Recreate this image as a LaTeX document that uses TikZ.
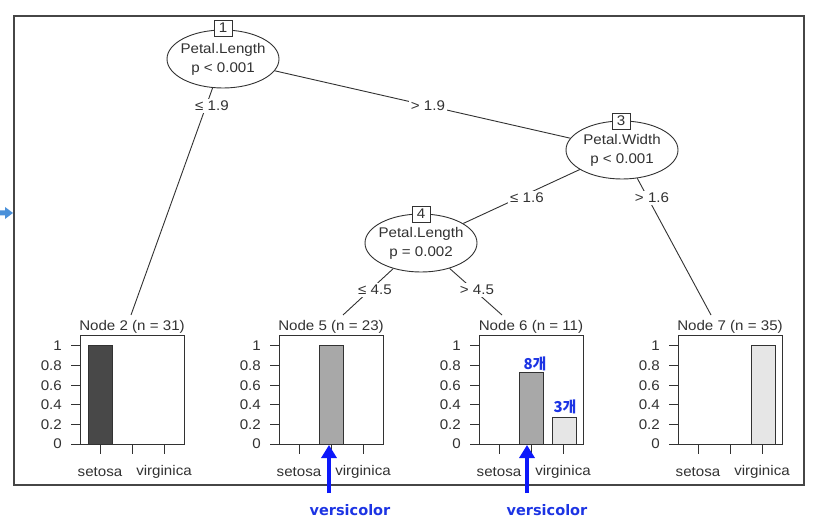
\documentclass[tikz,border=0pt]{standalone}
\usepackage{fontspec}
\setmainfont{Liberation Sans}[FakeStretch=1.08]
\newfontfamily\krfont{Noto Sans CJK KR}
\newfontfamily\annofont{DejaVu Sans}
\usetikzlibrary{shapes.geometric,arrows.meta}
\definecolor{ink}{RGB}{50,50,50}
\definecolor{framec}{RGB}{70,70,70}
\definecolor{bardark}{RGB}{72,72,72}
\definecolor{barmid}{RGB}{168,168,168}
\definecolor{barlight}{RGB}{230,230,230}
\definecolor{annoblue}{RGB}{28,52,228}
\definecolor{arrowblue}{RGB}{12,24,250}
\definecolor{sideblue}{RGB}{74,144,217}
\tikzset{
  inner/.style={ellipse, draw=ink, fill=white, line width=0.9pt, minimum width=112pt, minimum height=58pt, inner sep=0pt},
  ntext/.style={align=center, inner sep=0pt, font=\fontsize{14}{19}\selectfont},
  idbox/.style={rectangle, draw=ink, fill=white, line width=0.9pt, minimum width=18pt, minimum height=16pt, inner sep=0pt},
  edge/.style={draw=ink, line width=0.9pt},
  elabel/.style={fill=white, inner sep=2pt},
  plotline/.style={draw=ink, line width=1pt},
  bar/.style={draw=ink, line width=1pt},
  ntitle/.style={inner sep=1pt},
  anno/.style={text=annoblue, inner sep=0pt, font=\krfont\bfseries\fontsize{15}{15}\selectfont},
  vlabel/.style={text=annoblue, inner sep=0pt, font=\annofont\bfseries\fontsize{14.5}{15}\selectfont},
  barrow/.style={draw=arrowblue, line width=4pt, -{Triangle[width=15pt,length=13pt]}},
  framebox/.style={draw=framec, line width=2pt}
}
\begin{document}
\begin{tikzpicture}[x=1pt,y=-1pt, font=\fontsize{14}{18}\selectfont, text=ink]
\useasboundingbox (0,0) rectangle (830,526);
\fill[white] (0,0) rectangle (830,526);
% outer frame
\draw[framebox] (14,16) rectangle (804,485);
% side arrow fragment
\fill[sideblue] (0,210.5) -- (5,210.5) -- (5,207) -- (13,213) -- (5,219) -- (5,215.5) -- (0,215.5) -- cycle;

% inner nodes
\node[inner] (n1) at (223,59) {};
\node[inner] (n3) at (622,150) {};
\node[inner] (n4) at (421,243) {};

% connector end points at terminal panels
\coordinate (e2) at (131,315);
\coordinate (e5) at (343,315);
\coordinate (e6) at (502,315);
\coordinate (e7) at (711,315);

% edges
\draw[edge] (n1) -- (e2);
\draw[edge] (n1) -- (n3);
\draw[edge] (n3) -- (n4);
\draw[edge] (n3) -- (e7);
\draw[edge] (n4) -- (e5);
\draw[edge] (n4) -- (e6);

% edge labels
\node[elabel] (l12) at (212,106) {≤ 1.9};
\node[elabel] (l13) at (428,106) {> 1.9};
\node[elabel] (l34) at (527,198) {≤ 1.6};
\node[elabel] (l37) at (652,198) {> 1.6};
\node[elabel] (l45) at (375,290) {≤ 4.5};
\node[elabel] (l46) at (477,290) {> 4.5};

% node texts and id boxes
\node[ntext] (n1t) at (n1) {Petal.Length\\p < 0.001};
\node[ntext] (n3t) at (n3) {Petal.Width\\p < 0.001};
\node[ntext] (n4t) at (n4) {Petal.Length\\p = 0.002};
\node[idbox] (b1) at (223,28) {1};
\node[idbox] (b3) at (621,121) {3};
\node[idbox] (b4) at (421,214) {4};

% terminal panels
\foreach \i/\L/\n in {2/80/31, 5/279/23, 6/479/11, 7/678/35} {
  \node[ntitle] (t\i) at (\L+52,327) {Node \i\ (n = \n)};
  \draw[plotline] (\L,336) rectangle (\L+104,444);
  \foreach \v [count=\j] in {0,0.2,0.4,0.6,0.8,1} {
    \draw[plotline] (\L-9,444-98*\v) -- (\L,444-98*\v);
    \node[anchor=east, inner sep=0pt] (y\i x\j) at (\L-18,444-98*\v) {\v};
  }
  \foreach \k in {20,52,84} \draw[plotline] (\L+\k,444) -- (\L+\k,454);
  \node (s\i) at (\L+20,472) {setosa};
  \node (v\i) at (\L+84,472) {virginica};
}

% bars
\draw[bar, fill=bardark] (88,444) rectangle (112,346);
\draw[bar, fill=barmid] (319,444) rectangle (343,346);
\draw[bar, fill=barmid] (519,444) rectangle (543,372.7);
\draw[bar, fill=barlight] (552,444) rectangle (576,417.3);
\draw[bar, fill=barlight] (751,444) rectangle (775,346);

% annotations
\node[anno] (c8) at (535,364) {8개};
\node[anno] (c3) at (565,407) {3개};
\coordinate (a5s) at (329,493);
\coordinate (a5t) at (329,445);
\coordinate (a6s) at (527,493);
\coordinate (a6t) at (527,445);
\draw[barrow] (a5s) -- (a5t);
\draw[barrow] (a6s) -- (a6t);
\node[vlabel] (vc5) at (350,510) {versicolor};
\node[vlabel] (vc6) at (547,510) {versicolor};
\end{tikzpicture}
\end{document}
